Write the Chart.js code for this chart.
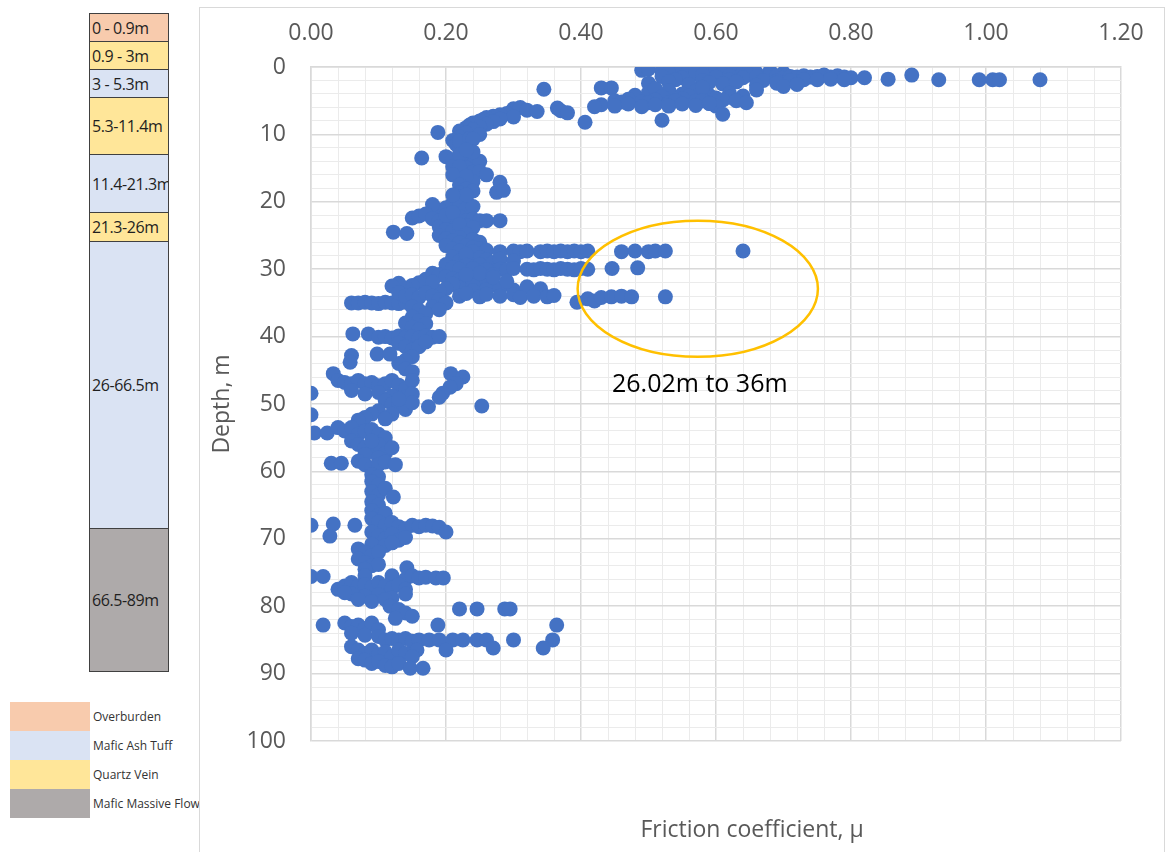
<!DOCTYPE html>
<html>
<head>
<meta charset="utf-8">
<script src="https://cdn.jsdelivr.net/npm/chart.js@4.4.0/dist/chart.umd.min.js"></script>
<style>
  body { margin: 0; width: 1167px; height: 852px; background: #fff; position: relative; overflow: hidden;
         font-family: "Open Sans", Lato, sans-serif; }
  #strat { position: absolute; left: 89px; top: 14px; width: 80px; }
  .layer { box-sizing: border-box; border: 1px solid #404040; margin-top: -1px; display: flex; align-items: center;
           padding-left: 2px; font-size: 16px; letter-spacing: -0.4px; color: #1f1f1f; overflow: hidden; white-space: nowrap; }
  #legend { position: absolute; left: 10px; top: 702px; }
  .key { display: flex; align-items: center; height: 29px; font-size: 12px; color: #333; white-space: nowrap; }
  .key span { display: inline-block; width: 80px; height: 100%; margin-right: 3px; }
  #box { position: absolute; left: 199px; top: 7px; width: 966px; height: 850px; box-sizing: border-box;
         border: 1px solid #d9d9d9; background: #fff; }
  #xTitle { position: absolute; left: 752px; top: 812px; transform: translateX(-50%); font-size: 23px; color: #595959;
            white-space: nowrap; }
</style>
</head>
<body>
<div id="strat"></div>
<div id="legend"></div>
<div id="box"><canvas id="frictionChart"></canvas></div>
<div id="xTitle">Friction coefficient, μ</div>

<script>
// strat column (depth intervals from the log)
const layerLabels = ['0 - 0.9m', '0.9 - 3m', '3 - 5.3m', '5.3-11.4m', '11.4-21.3m', '21.3-26m', '26-66.5m', '66.5-89m'];
const layerRocks = ['Overburden', 'Quartz Vein', 'Mafic Ash Tuff', 'Quartz Vein', 'Mafic Ash Tuff', 'Quartz Vein', 'Mafic Ash Tuff', 'Mafic Massive Flow'];
const rockTypes = ['Overburden', 'Mafic Ash Tuff', 'Quartz Vein', 'Mafic Massive Flow'];

// friction coefficient vs depth, [mu, depth m]
const pts0to3 = [
  [0.49,0.5],[0.50,0.3],[0.52,0.6],[0.54,0.4],[0.55,0.2],[0.56,0.5],[0.57,0.3],[0.58,0.6],[0.59,0.2],[0.60,0.4],
  [0.61,0.7],[0.62,0.3],[0.63,0.5],[0.64,0.8],[0.65,0.4],[0.66,0.9],[0.68,0.6],[0.70,0.9],[0.53,0.9],[0.57,1.0],
  [0.61,1.1],[0.65,1.2],
  [0.52,1.4],[0.55,1.6],[0.58,1.2],[0.60,1.5],[0.62,1.3],[0.64,1.6],[0.66,1.4],[0.68,1.1],[0.69,1.3],[0.70,1.6],
  [0.71,1.4],[0.72,1.5],[0.73,1.3],[0.74,1.5],[0.75,1.4],[0.76,1.2],[0.77,1.5],[0.78,1.3],[0.79,1.5],[0.80,1.6],
  [0.82,1.6],[0.855,1.8],[0.89,1.2],[0.93,1.9],[0.99,1.9],[1.01,1.9],[1.02,1.9],[1.08,1.9],
  [0.67,2.0],[0.69,2.1],[0.71,2.0],[0.73,1.9],[0.75,1.9],[0.77,1.8],[0.79,1.9],[0.54,1.9],[0.58,2.0],[0.62,1.9],
  [0.50,2.4],[0.53,2.2],[0.56,2.6],[0.59,2.3],[0.61,2.5],[0.63,2.2],[0.66,2.7],[0.69,2.4],[0.70,2.9],[0.72,2.6]
];
const pts3to12 = [
  [0.345,3.3],[0.43,3.1],[0.445,3.1],[0.50,3.8],[0.53,3.5],[0.55,4.0],[0.57,3.6],[0.59,4.2],[0.62,3.9],[0.64,4.3],[0.66,3.4],
  [0.51,3.2],[0.58,3.0],[0.48,4.2],[0.52,4.4],[0.56,4.3],[0.60,4.6],[0.62,4.5],
  [0.45,5.0],[0.47,4.8],[0.49,5.2],[0.51,4.9],[0.53,5.3],[0.55,4.7],[0.57,5.1],[0.59,5.4],[0.61,4.9],[0.63,5.0],[0.645,5.3],
  [0.46,5.2],[0.50,5.3],[0.54,5.0],[0.58,5.0],[0.60,5.8],
  [0.43,5.6],[0.45,5.8],[0.47,5.5],[0.49,5.9],[0.51,5.6],[0.53,5.8],[0.55,5.5],[0.57,5.7],[0.59,5.4],
  [0.42,5.9],[0.406,8.2],[0.52,7.9],[0.61,7.0],
  [0.365,6.1],[0.37,6.5],[0.38,6.8],
  [0.30,6.2],[0.31,6.0],[0.32,6.4],[0.335,6.6],
  [0.29,6.9],[0.28,7.1],[0.27,7.3],[0.26,7.5],[0.255,7.8],[0.25,8.0],[0.24,8.3],[0.235,8.6],[0.23,9.0],[0.22,9.5],
  [0.30,7.4],[0.28,7.7],[0.27,8.1],[0.26,8.5],[0.25,8.9],[0.24,9.3],[0.23,9.8],
  [0.188,9.7],[0.22,10.4],[0.21,10.9],[0.215,11.5],[0.22,12.0],[0.23,11.2],
  [0.22,11.0],[0.235,10.6],[0.25,10.0],[0.24,10.7]
];
const pts12to27 = [
  [0.164,13.5],[0.20,13.3],[0.21,13.8],[0.22,14.1],[0.23,13.6],[0.24,14.4],[0.25,14.0],[0.21,14.8],[0.22,15.3],[0.23,15.0],
  [0.24,15.6],[0.25,15.5],[0.26,16.0],[0.22,16.4],[0.23,16.8],[0.24,17.0],
  [0.22,13.0],[0.24,12.6],[0.23,12.3],[0.22,14.8],[0.23,16.2],[0.21,16.0],
  [0.28,17.1],[0.275,18.6],[0.285,18.3],
  [0.22,17.5],[0.23,18.1],[0.22,18.7],[0.24,18.4],[0.22,19.3],[0.23,19.7],[0.21,20.2],[0.22,20.6],[0.20,20.9],[0.19,21.2],
  [0.23,21.0],[0.24,20.7],[0.18,20.4],[0.23,19.0],[0.21,19.0],
  [0.15,22.4],[0.16,22.1],[0.17,21.8],[0.18,22.5],[0.19,22.8],[0.20,23.0],[0.21,22.5],[0.22,22.2],[0.23,22.8],[0.24,22.6],
  [0.25,22.8],[0.26,22.8],[0.28,22.8],[0.19,23.7],[0.20,24.1],[0.21,24.3],[0.22,24.0],[0.23,23.5],
  [0.20,22.0],[0.21,21.6],[0.22,23.4],[0.24,23.8],[0.23,24.8],[0.22,25.3],[0.24,25.6],[0.25,26.0],
  [0.122,24.5],[0.142,24.7],
  [0.19,25.0],[0.20,25.5],[0.21,25.8],[0.22,26.1],[0.20,26.5],[0.21,27.0],[0.23,26.5],[0.24,26.8],[0.25,27.0]
];
const pts27to40 = [
  [0.22,27.3],[0.24,27.4],[0.26,27.2],[0.28,27.4],[0.30,27.3],[0.31,27.4],[0.32,27.3],[0.34,27.4],[0.35,27.3],[0.36,27.4],
  [0.37,27.3],[0.38,27.4],[0.39,27.3],[0.40,27.4],[0.41,27.3],[0.46,27.4],[0.48,27.3],[0.50,27.4],[0.51,27.3],[0.525,27.3],[0.64,27.3],
  [0.21,28.2],[0.22,28.8],[0.23,28.4],[0.24,28.8],[0.25,28.3],[0.26,28.6],[0.27,29.0],[0.28,28.5],[0.20,29.3],[0.30,28.8],
  [0.23,27.8],[0.25,29.3],[0.23,29.4],[0.21,29.8],
  [0.22,30.0],[0.24,29.9],[0.26,30.1],[0.28,30.0],[0.29,30.1],[0.30,29.9],[0.32,30.0],[0.33,30.1],[0.34,29.9],[0.35,30.0],
  [0.36,30.1],[0.37,29.9],[0.38,30.0],[0.39,30.1],[0.40,29.9],[0.41,30.0],[0.446,29.9],[0.484,29.8],
  [0.17,31.5],[0.18,30.6],[0.19,30.8],[0.20,31.1],[0.21,31.4],[0.22,31.6],[0.23,31.3],[0.24,31.8],[0.25,31.5],[0.26,32.0],
  [0.27,32.3],[0.16,32.0],[0.15,32.4],[0.14,32.8],[0.13,32.1],[0.12,32.5],[0.22,32.8],[0.24,32.5],[0.26,33.0],[0.28,32.8],
  [0.30,33.1],[0.32,32.6],[0.34,32.9],
  [0.25,30.6],[0.27,30.8],[0.23,30.8],[0.21,32.2],[0.20,32.9],[0.19,33.3],[0.24,33.2],[0.27,31.2],[0.29,31.8],[0.18,31.9],
  [0.22,34.0],[0.23,33.6],[0.25,34.1],[0.26,33.7],[0.28,34.0],[0.30,33.8],[0.31,34.2],[0.33,34.0],[0.35,34.1],[0.36,33.9],
  [0.394,34.9],[0.41,34.4],[0.42,34.7],[0.43,34.2],[0.445,34.1],[0.46,34.0],[0.475,34.1],[0.525,34.1],
  [0.06,35.0],[0.07,35.0],[0.08,34.9],[0.09,35.0],[0.10,35.1],[0.11,34.9],[0.12,35.0],[0.13,35.1],[0.14,34.9],[0.15,35.0],
  [0.13,33.5],[0.14,34.0],[0.15,33.8],[0.16,34.2],[0.17,33.5],[0.18,34.0],[0.19,34.5],[0.20,35.0],[0.18,35.6],[0.19,36.0],
  [0.15,35.6],[0.16,36.1],[0.17,36.6],[0.15,37.1],[0.16,37.6],[0.17,38.1],[0.14,38.0],[0.15,38.6],[0.16,39.0],
  [0.062,39.6],[0.085,39.6],
  [0.10,40.1],[0.11,40.0],[0.12,40.2],[0.13,39.9],[0.14,40.1],[0.15,40.0],[0.16,40.2],[0.17,39.9],[0.18,40.1],[0.19,40.0]
];
const pts40to61 = [
  [0.13,41.0],[0.14,41.5],[0.15,42.0],[0.16,41.5],[0.17,40.8],[0.15,43.0],[0.14,43.5],[0.13,44.0],[0.14,44.8],[0.15,45.2],
  [0.098,42.6],[0.117,42.6],[0.06,42.8],[0.058,43.8],
  [0.033,45.5],[0.04,46.5],[0.05,46.8],[0.06,47.0],[0.07,46.5],[0.08,47.0],[0.09,46.8],[0.10,47.3],[0.11,47.0],[0.12,46.5],
  [0.13,47.2],[0.14,47.8],[0.15,46.5],[0.06,48.0],[0.08,48.5],[0.10,48.3],[0.12,48.8],[0.14,49.0],[0.15,48.5],
  [0.207,45.5],[0.225,46.0],[0.215,47.0],[0.206,47.5],[0.195,48.4],[0.19,49.0],[0.174,50.4],[0.253,50.3],[0.0,48.4],[0.0,51.6],
  [0.11,49.5],[0.12,50.0],[0.13,50.3],[0.14,50.8],[0.15,49.8],[0.10,51.0],[0.09,51.5],[0.08,52.0],[0.07,52.4],[0.12,51.5],
  [0.11,52.2],[0.13,49.3],
  [0.005,54.3],[0.024,54.3],[0.04,53.5],[0.05,54.0],[0.06,53.5],[0.07,54.5],[0.08,54.0],[0.09,53.8],[0.10,54.5],[0.11,55.0],
  [0.06,55.5],[0.07,56.0],[0.08,56.5],[0.09,57.0],[0.10,56.0],[0.11,57.3],[0.12,56.5],[0.09,55.5],[0.08,57.5],[0.10,58.0],
  [0.03,58.8],[0.045,58.8],[0.07,58.5],[0.08,59.0],[0.09,59.5],[0.10,59.0],[0.11,58.6],[0.125,59.0],[0.09,60.5],[0.10,60.8]
];
const pts61to90 = [
  [0.09,61.5],[0.10,62.0],[0.09,63.0],[0.10,63.5],[0.11,62.5],[0.122,63.8],[0.09,64.5],[0.10,65.0],[0.09,65.8],[0.10,66.5],[0.11,66.2],
  [0.0,68.0],[0.033,67.8],[0.028,69.6],[0.065,68.0],[0.09,67.0],[0.10,67.5],[0.11,68.0],[0.12,67.6],[0.13,68.2],[0.14,68.5],
  [0.15,68.0],[0.16,68.2],[0.17,68.0],[0.18,68.1],[0.19,68.3],[0.20,69.0],[0.09,69.0],[0.10,69.5],[0.11,70.0],[0.12,69.3],
  [0.13,70.2],[0.14,69.8],[0.09,70.8],[0.11,71.0],[0.12,70.6],
  [0.07,71.5],[0.08,72.0],[0.09,72.5],[0.10,72.0],[0.07,73.0],[0.08,73.5],[0.09,74.0],[0.10,73.8],[0.08,74.5],[0.142,74.3],
  [0.0,75.6],[0.018,75.6],[0.08,75.5],[0.12,75.5],[0.14,76.0],[0.15,75.5],[0.16,75.8],[0.17,75.7],[0.185,75.8],[0.196,75.8],
  [0.04,77.5],[0.05,77.0],[0.06,76.5],[0.07,77.0],[0.08,76.8],[0.09,77.2],[0.10,76.5],[0.11,77.0],[0.12,77.3],[0.13,76.8],
  [0.14,77.5],[0.06,78.2],[0.08,78.5],[0.10,78.3],[0.12,78.8],[0.14,78.2],[0.05,78.0],[0.07,79.0],[0.09,79.3],[0.11,79.0],
  [0.117,80.0],[0.13,80.5],[0.14,81.0],[0.15,81.5],[0.125,81.8],[0.22,80.4],[0.246,80.4],[0.287,80.4],[0.295,80.4],
  [0.018,82.8],[0.05,82.5],[0.06,83.0],[0.07,82.8],[0.08,83.3],[0.09,82.5],[0.10,83.5],[0.06,84.0],[0.08,84.3],[0.188,82.8],[0.364,82.8],
  [0.10,84.5],[0.11,85.0],[0.12,84.8],[0.13,85.0],[0.14,84.8],[0.15,85.2],[0.16,85.0],[0.175,85.0],[0.19,85.0],[0.21,85.0],
  [0.225,85.0],[0.246,85.0],[0.26,85.0],[0.30,85.0],[0.358,85.0],[0.344,86.2],[0.27,86.2],[0.20,86.5],[0.157,86.5],
  [0.06,86.0],[0.07,86.5],[0.08,87.0],[0.09,86.5],[0.10,87.2],[0.11,86.8],[0.12,87.5],[0.13,86.5],[0.14,87.0],[0.15,87.5],
  [0.07,87.8],[0.08,88.0],[0.09,88.5],[0.10,88.2],[0.11,88.8],[0.12,89.0],[0.13,88.5],[0.147,89.2],[0.166,89.2]
];

// annotation: ellipse around the 26-36 m spike
const noteCentre = [0.573, 32.9];
const noteHalfSize = [0.178, 10.1];
const noteTextAt = [0.576, 47.2];
const noteText = '26.02m to 36m';

// --- styling ---
const rockColours = { 'Overburden': '#f8cbad', 'Mafic Ash Tuff': '#dae3f3', 'Quartz Vein': '#ffe699', 'Mafic Massive Flow': '#aeaaaa' };
const layerBoxHeights = [29, 29, 29, 58, 59, 30, 288, 144];
const FONT = '"Open Sans", Lato, sans-serif';

const strat = document.getElementById('strat');
layerLabels.forEach((label, i) => {
  const d = document.createElement('div');
  d.className = 'layer';
  d.style.height = layerBoxHeights[i] + 'px';
  d.style.background = rockColours[layerRocks[i]];
  d.textContent = label;
  strat.appendChild(d);
});

const legend = document.getElementById('legend');
rockTypes.forEach(r => {
  const d = document.createElement('div');
  d.className = 'key';
  const sw = document.createElement('span');
  sw.style.background = rockColours[r];
  d.appendChild(sw);
  d.appendChild(document.createTextNode(r));
  legend.appendChild(d);
});

function onStep(v, step) {
  return Math.abs(v / step - Math.round(v / step)) < 1e-6;
}

const ellipseNote = {
  id: 'ellipseNote',
  afterDatasetsDraw(chart) {
    const { ctx, scales: { x, y } } = chart;
    const cx = x.getPixelForValue(noteCentre[0]);
    const cy = y.getPixelForValue(noteCentre[1]);
    const rx = Math.abs(x.getPixelForValue(noteCentre[0] + noteHalfSize[0]) - cx);
    const ry = Math.abs(y.getPixelForValue(noteCentre[1] + noteHalfSize[1]) - cy);
    ctx.save();
    ctx.beginPath();
    ctx.ellipse(cx, cy, rx, ry, 0, 0, Math.PI * 2);
    ctx.strokeStyle = '#ffc000';
    ctx.lineWidth = 2.5;
    ctx.stroke();
    ctx.font = '25px ' + FONT;
    ctx.fillStyle = '#000';
    ctx.textAlign = 'center';
    ctx.textBaseline = 'middle';
    ctx.fillText(noteText, x.getPixelForValue(noteTextAt[0]), y.getPixelForValue(noteTextAt[1]));
    ctx.restore();
  }
};

const allPts = [].concat(pts0to3, pts3to12, pts12to27, pts27to40, pts40to61, pts61to90);

new Chart(document.getElementById('frictionChart'), {
  type: 'scatter',
  data: {
    datasets: [{
      label: 'Friction coefficient',
      data: allPts.map(p => ({ x: p[0], y: p[1] })),
      backgroundColor: '#4472c4',
      borderWidth: 0,
      pointRadius: 7.5,
      pointHoverRadius: 7.5
    }]
  },
  options: {
    responsive: true,
    maintainAspectRatio: false,
    animation: false,
    layout: { padding: { left: 0, top: 0, right: 43, bottom: 115 } },
    plugins: { legend: { display: false }, tooltip: { enabled: false } },
    scales: {
      x: {
        type: 'linear',
        position: 'top',
        min: 0,
        max: 1.2,
        afterFit: s => { s.height = 59; },
        ticks: {
          stepSize: 0.04,
          autoSkip: false,
          maxRotation: 0,
          padding: 20,
          color: '#595959',
          font: { family: FONT, size: 23 },
          callback: v => onStep(v, 0.2) ? v.toFixed(2) : ''
        },
        grid: {
          drawTicks: false,
          color: c => onStep(c.tick.value, 0.2) ? '#d9d9d9' : '#ebebeb',
          lineWidth: c => onStep(c.tick.value, 0.2) ? 1.5 : 1
        },
        border: { color: '#d9d9d9', width: 1.5 }
      },
      y: {
        type: 'linear',
        reverse: true,
        min: 0,
        max: 100,
        afterFit: s => { s.width = 111; },
        ticks: {
          stepSize: 2,
          autoSkip: false,
          padding: 25,
          color: '#595959',
          font: { family: FONT, size: 23 },
          callback: v => onStep(v, 10) ? String(v) : ''
        },
        grid: {
          drawTicks: false,
          color: c => onStep(c.tick.value, 10) ? '#d9d9d9' : '#ebebeb',
          lineWidth: c => onStep(c.tick.value, 10) ? 1.5 : 1
        },
        border: { color: '#d9d9d9', width: 1.5 },
        title: {
          display: true,
          text: 'Depth, m',
          color: '#595959',
          font: { family: FONT, size: 23 },
          padding: { top: 9, bottom: 0 }
        }
      }
    }
  },
  plugins: [ellipseNote]
});
</script>
</body>
</html>
